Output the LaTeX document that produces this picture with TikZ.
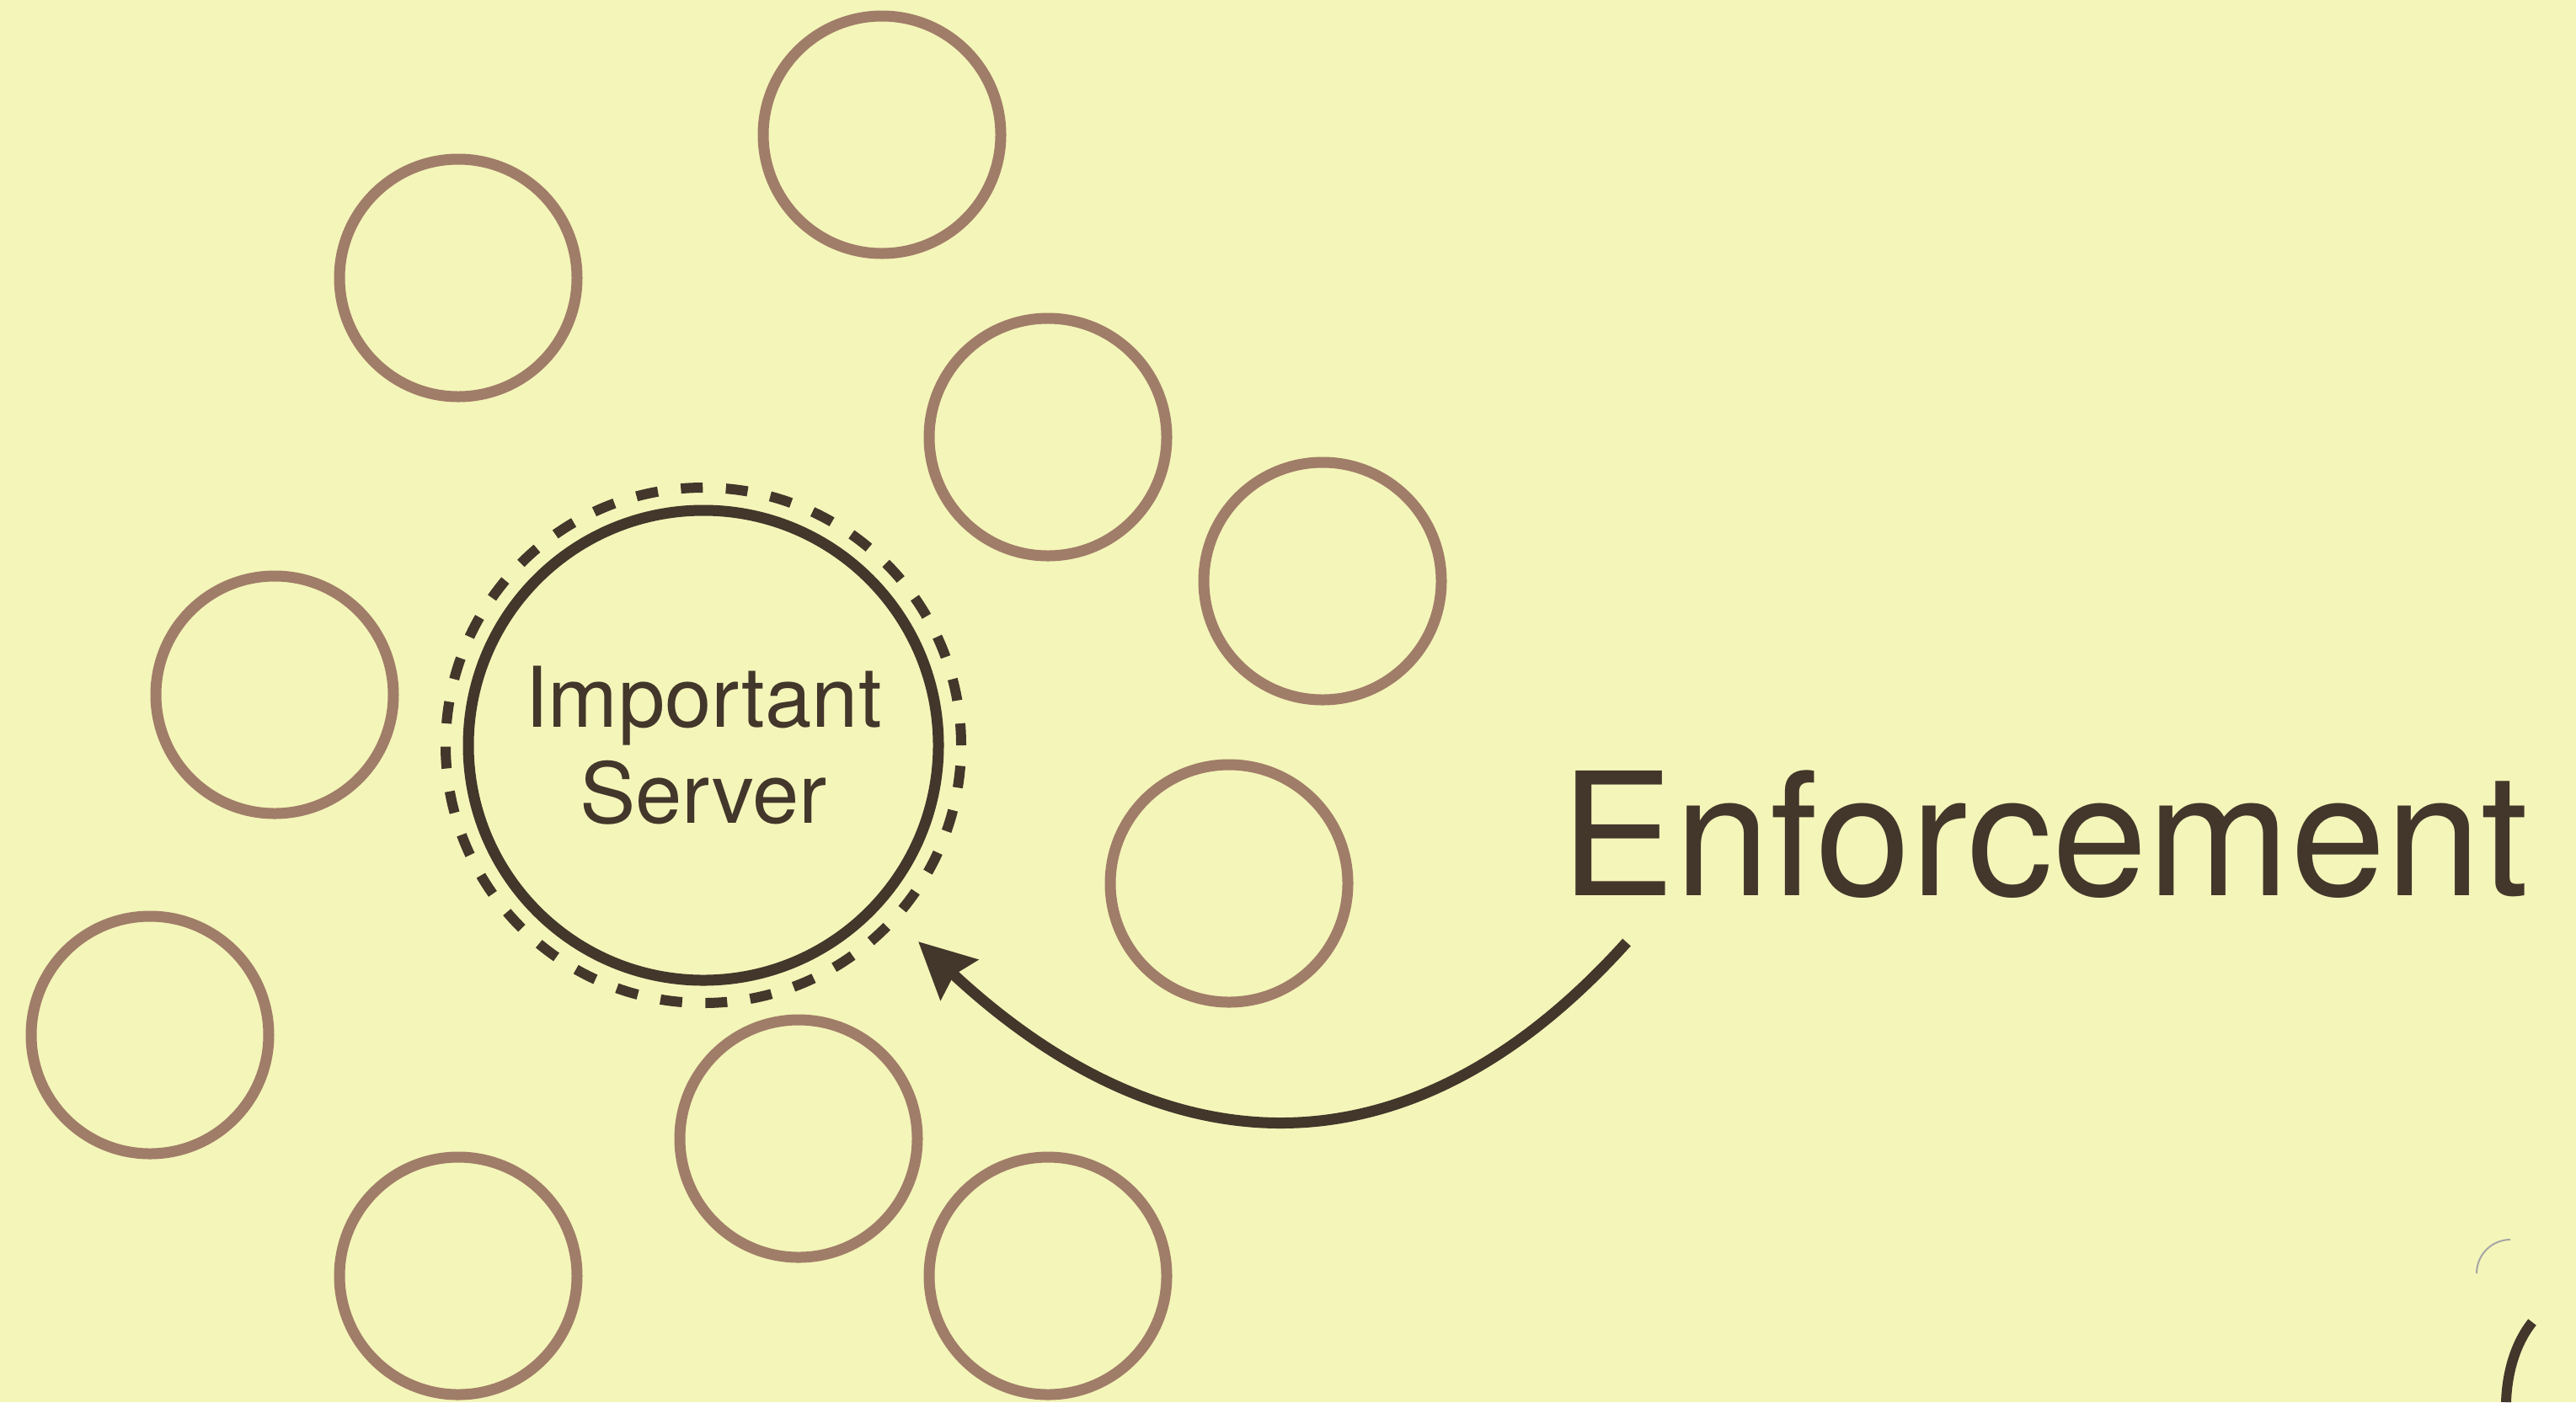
\documentclass[tikz,border=0pt]{standalone}
\usepackage{fontspec}
\setmainfont{TeX Gyre Heros}
\usetikzlibrary{arrows.meta}
\definecolor{paper}{RGB}{244,245,185}
\definecolor{ink}{RGB}{67,54,42}
\definecolor{peer}{RGB}{160,125,104}

\begin{document}
\begin{tikzpicture} [scale = 1,
  client/.style = {circle, draw = peer, line width = 0.13cm, minimum size = 2.82cm, inner sep = 0},
  server/.style = {circle, draw = ink, line width = 0.13cm, minimum size = 5.58cm, inner sep = 0,
    align = center, text = ink, font = \fontsize{28.3}{32.6}\selectfont},
  guard/.style = {circle, draw = ink, line width = 0.12cm, dash pattern = on 0.26cm off 0.275cm,
    minimum size = 6.12cm, inner sep = 0},
  push/.style = {draw = ink, line width = 0.13cm,
    -{Stealth[length = 0.66cm, width = 0.64cm, inset = 0.08cm]}}]
\fill[paper] (0.0, 0.0) rectangle (30.58, -16.65);
\useasboundingbox (0.0, 0.0) rectangle (30.58, -16.65);
% the clients round the server
\foreach \name/\x/\y in {c1/10.47/-1.60, c2/5.44/-3.30, c3/12.44/-5.19, c4/15.70/-6.90,
                         c5/3.26/-8.25, c6/14.59/-10.49, c7/1.78/-12.29, c8/9.48/-13.52,
                         c9/5.44/-15.15, c10/12.44/-15.15}
  \node[client] (\name) at (\x, \y){};
% the server and its guard
\node[guard] (ring) at (8.35, -8.85){};
\node[server] (srv) at (8.35, -8.85){Important\\Server};
\node[anchor = base west, inner sep = 0, text = ink, font = \fontsize{57.8}{68}\selectfont]
  (enf) at (18.52, -10.63){Enforcement};
\coordinate (from) at (19.31, -11.19);
\coordinate (tip) at (10.90, -11.18);
\draw[push] (from) to[out = 228, in = -43, looseness = 1.2] (tip);
% cut-off shapes at the lower right
\draw[ink, line width = 0.12cm] (30.06, -15.70) .. controls (29.86, -15.95) and (29.76, -16.30) .. (29.75, -16.65);
\draw[black!35, line width = 0.02cm] (29.40, -15.12) arc [start angle = 180, end angle = 90, radius = 0.40];
\end{tikzpicture}
\end{document}
